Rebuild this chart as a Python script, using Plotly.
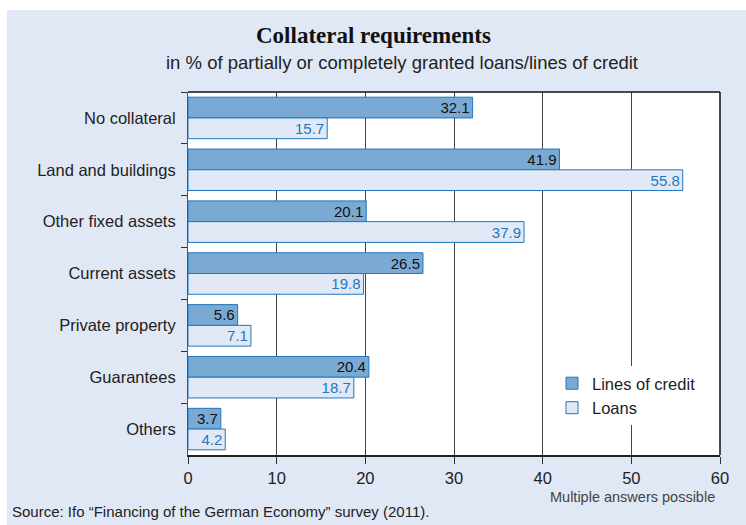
import plotly.graph_objects as go

categories = ["No collateral", "Land and buildings", "Other fixed assets", "Current assets",
              "Private property", "Guarantees", "Others"]
lines_of_credit = [32.1, 41.9, 20.1, 26.5, 5.6, 20.4, 3.7]
loans = [15.7, 55.8, 37.9, 19.8, 7.1, 18.7, 4.2]
x_ticks = [0, 10, 20, 30, 40, 50, 60]

FONT = "Liberation Sans, Arial, sans-serif"
BLUE = "#1f77bf"

fig = go.Figure()
fig.add_trace(go.Bar(
    y=categories, x=lines_of_credit, orientation="h", name="Lines of credit",
    marker=dict(color="#7aaad4", line=dict(color=BLUE, width=1)),
    text=[f"{v:.1f}" for v in lines_of_credit], textposition="inside",
    insidetextanchor="end", textangle=0, constraintext="none",
    textfont=dict(family=FONT, size=15, color="#111111"),
))
fig.add_trace(go.Bar(
    y=categories, x=loans, orientation="h", name="Loans",
    marker=dict(color="#e2e9f6", line=dict(color=BLUE, width=1)),
    text=[f"{v:.1f}" for v in loans], textposition="inside",
    insidetextanchor="end", textangle=0, constraintext="none",
    textfont=dict(family=FONT, size=15, color=BLUE),
))

L, R, T, B = 188, 26, 92, 70
W, H = 746, 525
pw, ph = W - L - R, H - T - B

def px(x):
    return (x - L) / pw

def py(y):
    return (H - B - y) / ph

fig.update_layout(
    width=W, height=H,
    margin=dict(l=L, r=R, t=T, b=B, pad=0),
    paper_bgcolor="white", plot_bgcolor="white",
    barmode="group", bargap=0.2, bargroupgap=0,
    font=dict(family=FONT, size=17, color="#222222"),
    uniformtext=dict(mode=False),
    showlegend=True,
    legend=dict(x=px(552), y=py(366), xanchor="left", yanchor="top",
                bgcolor="white", font=dict(size=16.5, color="#222222"),
                itemwidth=30, tracegroupgap=0),
    xaxis=dict(range=[0, 60], tickvals=x_ticks, showgrid=True, gridcolor="#444444",
               gridwidth=1, ticks="outside", ticklen=7, tickcolor="#333333",
               showline=True, linecolor="#222222", linewidth=1.5, zeroline=False,
               tickfont=dict(size=16.5, color="#222222"), fixedrange=True),
    yaxis=dict(autorange="reversed", ticks="outside", tickson="boundaries", ticklen=6,
               tickcolor="#333333", showline=True, linecolor="#555555", linewidth=1,
               ticklabelstandoff=8,
               tickfont=dict(size=16.5, color="#222222"), showgrid=False),
    shapes=[
        dict(type="rect", xref="paper", yref="paper", x0=px(7), x1=px(760), y0=py(540),
             y1=py(10), fillcolor="#e1e8f5", line=dict(width=0), layer="below"),
        dict(type="rect", xref="paper", yref="paper", x0=0, x1=1, y0=0, y1=1,
             fillcolor="white", line=dict(width=0), layer="below"),
        dict(type="line", xref="paper", yref="paper", x0=0, x1=1, y0=1, y1=1,
             line=dict(color="#111111", width=1.5)),
        dict(type="line", xref="paper", yref="paper", x0=1, x1=1, y0=0, y1=1,
             line=dict(color="#111111", width=1.5)),
    ],
    annotations=[
        dict(text="<b>Collateral requirements</b>", xref="paper", yref="paper",
             x=px(373), y=py(35), xanchor="center", yanchor="middle", showarrow=False,
             font=dict(family="Liberation Serif, Times New Roman, serif", size=23, color="#111111")),
        dict(text="in % of partially or completely granted loans/lines of credit", xref="paper",
             yref="paper", x=px(402), y=py(62), xanchor="center", yanchor="middle",
             showarrow=False, font=dict(size=18.5, color="#222222")),
        dict(text="Source: Ifo \u201cFinancing of the German Economy\u201d survey (2011).", xref="paper",
             yref="paper", x=px(10), y=py(512), xanchor="left", yanchor="middle",
             showarrow=False, font=dict(size=15, color="#222222")),
        dict(text="Multiple answers possible", xref="paper", yref="paper", x=px(632), y=py(497),
             xanchor="center", yanchor="middle", showarrow=False,
             font=dict(size=14.5, color="#444444")),
    ],
)

fig.write_html("out.html", config={"displayModeBar": False},
               post_script="document.body.style.margin='0';document.body.style.padding='0';")
